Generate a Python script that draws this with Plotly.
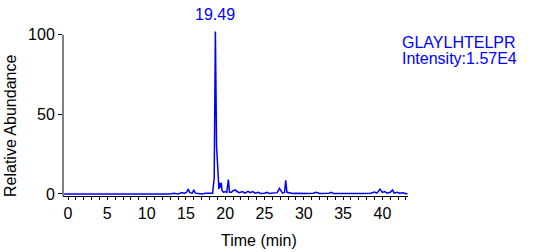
import plotly.graph_objects as go

# Retention time (min) and relative abundance (%)
time_min = [-0.5, 13.0, 13.5, 14.0, 14.5, 14.8, 15.1, 15.3, 15.5, 15.8, 16.0, 16.2, 16.6, 17.0, 17.5,
            18.0, 18.4, 18.6, 18.75, 18.9, 19.0, 19.1, 19.2, 19.3, 19.4, 19.5, 19.6, 19.8, 20.0, 20.2,
            20.4, 20.55, 20.8, 21.0, 21.3, 21.5, 21.8, 22.2, 22.5, 22.9, 23.2, 23.5, 23.8, 24.2, 24.5,
            25.0, 25.3, 25.6, 26.0, 26.6, 26.9, 27.1, 27.3, 27.55, 27.7, 27.85, 28.2, 28.6, 29.0, 29.6,
            30.0, 30.5, 31.2, 31.6, 32.0, 32.5, 33.2, 33.5, 33.8, 34.5, 35.5, 36.5, 37.5, 38.5, 39.0,
            39.3, 39.7, 40.0, 40.3, 40.6, 41.0, 41.3, 41.5, 41.9, 42.2, 42.6, 43.0, 43.2]
abundance = [0, 0, 0.5, 0, 0.8, 0.3, 1.2, 3.0, 0.8, 0.5, 2.5, 0.5, 0.3, 0, 0.5,
             0.3, 0.5, 10, 102, 30, 18, 8, 3, 7, 4, 7, 2, 1, 1.5, 1,
             9, 1, 1, 2, 2.5, 1.5, 0.8, 1.5, 0.5, 1.6, 0.8, 1.5, 0.5, 1, 0.3,
             0.5, 1, 0.3, 0.5, 0.8, 3.5, 1.5, 0.5, 1, 8.5, 1, 0.5, 0.3, 0.5, 0.2,
             0.3, 0.2, 0.5, 1, 0.3, 0.2, 0.5, 1, 0.2, 0.3, 0.2, 0.3, 0.2, 0.5, 1.2,
             0.5, 3, 1, 1.5, 0.5, 1, 2.5, 0.5, 1, 0.5, 0.8, 0.3, 0]

peak_label = "19.49"
peak_time = 18.75
peak_value = 102
compound = "GLAYLHTELPR"
intensity_text = "Intensity:1.57E4"
x_ticks = [0, 5, 10, 15, 20, 25, 30, 35, 40]
y_ticks = [0, 50, 100]

BLUE = "rgb(0,0,255)"
FONT = "Liberation Sans, Arial, sans-serif"
FS = 16

fig = go.Figure()
fig.add_trace(go.Scatter(x=time_min, y=abundance, mode="lines",
                         line=dict(color=BLUE, width=1.5), hoverinfo="skip"))

fig.update_layout(
    width=554, height=252,
    margin=dict(l=63, r=146, t=30, b=56),
    paper_bgcolor="white", plot_bgcolor="white",
    showlegend=False,
    font=dict(family=FONT, size=FS, color="black"),
)
fig.update_xaxes(
    range=[-0.64, 43.26], tickvals=x_ticks, ticks="outside", ticklen=3,
    tickcolor="black", showline=True, linecolor="black", linewidth=1,
    showgrid=False, zeroline=False,
    minor=dict(dtick=1, tick0=0, ticks="outside", ticklen=3, tickcolor="black", showgrid=False),
)
fig.update_yaxes(
    range=[-1.3, 103], tickvals=y_ticks, ticks="outside", ticklen=4,
    tickcolor="black", showline=False, showgrid=False, zeroline=False,
)
# y axis line from bottom of plot up to 100
fig.add_shape(type="line", xref="paper", yref="y", x0=0, x1=0, y0=-1.3, y1=100,
              line=dict(color="black", width=1))

W = 554 - 63 - 146
H = 252 - 30 - 56


def px_x(px):
    return (px - 63) / W


def px_y(py):
    return (252 - py - 56) / H


fig.add_annotation(x=peak_time, y=peak_value, xref="x", yref="y", text=peak_label,
                   showarrow=False, yanchor="bottom", yshift=7,
                   font=dict(color=BLUE, size=FS, family=FONT))
fig.add_annotation(x=px_x(400), y=px_y(42), xref="paper", yref="paper", text=compound,
                   showarrow=False, xanchor="left", yanchor="middle",
                   font=dict(color=BLUE, size=FS, family=FONT))
fig.add_annotation(x=px_x(400), y=px_y(59), xref="paper", yref="paper", text=intensity_text,
                   showarrow=False, xanchor="left", yanchor="middle",
                   font=dict(color=BLUE, size=FS, family=FONT))

# Axis titles as annotations
fig.add_annotation(x=px_x(259), y=px_y(240), xref="paper", yref="paper",
                   text="Time (min)", showarrow=False, xanchor="center", yanchor="middle",
                   font=dict(size=FS, family=FONT, color="black"))
fig.add_annotation(x=px_x(10), y=px_y(126), xref="paper", yref="paper",
                   text="Relative Abundance", showarrow=False, textangle=-90,
                   xanchor="center", yanchor="middle",
                   font=dict(size=FS, family=FONT, color="black"))

fig.write_html("out.html")
